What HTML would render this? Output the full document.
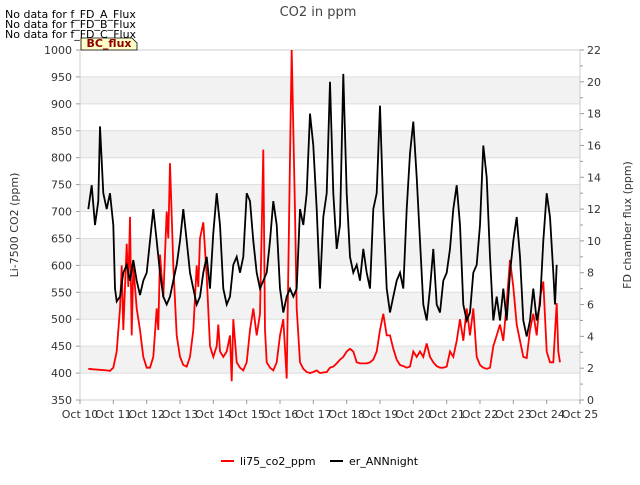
<!DOCTYPE html>
<html><head><meta charset="utf-8"><style>
body{margin:0;background:#fff;font-family:"Liberation Sans","DejaVu Sans",sans-serif}
svg text{font-family:"DejaVu Sans","Liberation Sans",sans-serif}
</style></head><body>
<svg id="chart" width="640" height="480" xmlns="http://www.w3.org/2000/svg">
<g id="bands"></g><g id="grid"></g><g id="axes"></g>
<g id="series"></g>
<text x="318" y="16" text-anchor="middle" font-size="13" fill="#444">CO2 in ppm</text>
<text x="5" y="18" font-size="11">No data for f_FD_A_Flux</text>
<text x="5" y="28" font-size="11">No data for f_FD_B_Flux</text>
<text x="5" y="38" font-size="11">No data for f_FD_C_Flux</text>
<g><path d="M81,38 L132,38 L137,43 L137,50 L81,50 Z" fill="#ffffc8" stroke="#000" stroke-width="0.8"/>
<text x="109" y="47" text-anchor="middle" font-size="11" font-weight="bold" fill="#8b0000">BC_flux</text></g>
<text transform="translate(18,225) rotate(-90)" text-anchor="middle" font-size="11" fill="#333">Li-7500 CO2 (ppm)</text>
<text transform="translate(631,225) rotate(-90)" text-anchor="middle" font-size="11" fill="#333">FD chamber flux (ppm)</text>
<g>
<line x1="221" y1="461" x2="234" y2="461" stroke="#f00" stroke-width="2"/>
<text x="240" y="465" font-size="11">li75_co2_ppm</text>
<line x1="330" y1="461" x2="343" y2="461" stroke="#000" stroke-width="2"/>
<text x="349" y="465" font-size="11">er_ANNnight</text></g>
</svg>
<script>
const xTicks=["Oct 10","Oct 11","Oct 12","Oct 13","Oct 14","Oct 15","Oct 16","Oct 17","Oct 18","Oct 19","Oct 20","Oct 21","Oct 22","Oct 23","Oct 24","Oct 25"];
const leftTicks=[350,400,450,500,550,600,650,700,750,800,850,900,950,1000];
const rightTicks=[0,2,4,6,8,10,12,14,16,18,20,22];
const blackT=[10.25,10.35,10.45,10.55,10.6,10.7,10.8,10.9,11.0,11.05,11.1,11.2,11.3,11.4,11.5,11.6,11.7,11.8,11.9,12.0,12.1,12.2,12.3,12.4,12.5,12.6,12.7,12.8,12.9,13.0,13.1,13.2,13.3,13.4,13.5,13.6,13.7,13.8,13.9,14.0,14.1,14.2,14.3,14.4,14.5,14.6,14.7,14.8,14.9,15.0,15.1,15.2,15.3,15.4,15.5,15.6,15.7,15.8,15.9,16.0,16.1,16.2,16.3,16.4,16.5,16.6,16.7,16.8,16.9,17.0,17.1,17.2,17.3,17.4,17.5,17.6,17.7,17.8,17.9,18.0,18.1,18.2,18.3,18.4,18.5,18.6,18.7,18.8,18.9,19.0,19.1,19.2,19.3,19.4,19.5,19.6,19.7,19.8,19.9,20.0,20.1,20.2,20.3,20.4,20.5,20.6,20.7,20.8,20.9,21.0,21.1,21.2,21.3,21.4,21.5,21.6,21.7,21.8,21.9,22.0,22.1,22.2,22.3,22.4,22.5,22.6,22.7,22.8,22.9,23.0,23.1,23.2,23.3,23.4,23.5,23.6,23.7,23.8,23.9,24.0,24.1,24.2,24.25,24.3];
const blackV=[12,13.5,11,12.5,17.2,13,12,13,11,7,6.2,6.5,8,8.5,7.5,8.8,7.5,6.6,7.5,8,10,12,10,8,6.5,6,6.5,7.5,8.5,10,12,10,8,7,6,6.5,8,9,7,10.5,13,11,7,6,6.5,8.5,9,8,9,13,12.5,10,8,7,7.5,8,10,12.5,11,7,5.5,6.5,7,6.5,7,12,11,13,18,16,12,7,11.5,13,20,13,9.5,11,20.5,13,9,8,8.5,7.5,9.5,8,7,12,13,18.5,12,7,5.5,6.5,7.5,8,7,12,15.5,17.5,14,10,6,5,7,9.5,6,5.5,7.5,8,9.5,12,13.5,11,6,5,5.5,8,8.5,11,16,14,9,5,6.5,5,7,5,8,10,11.5,9,5,4,5,7,5,6,10,13,11.5,8,6,8.5];
const redT=[10.25,10.4,10.6,10.8,10.9,11.0,11.1,11.2,11.25,11.3,11.4,11.45,11.5,11.55,11.6,11.7,11.8,11.9,12.0,12.1,12.2,12.3,12.35,12.4,12.5,12.6,12.65,12.7,12.8,12.9,13.0,13.1,13.2,13.3,13.4,13.5,13.55,13.6,13.7,13.8,13.9,14.0,14.1,14.15,14.2,14.3,14.4,14.5,14.55,14.6,14.7,14.8,14.9,15.0,15.1,15.2,15.3,15.4,15.5,15.55,15.6,15.7,15.8,15.9,16.0,16.1,16.2,16.3,16.35,16.45,16.5,16.6,16.7,16.8,16.9,17.0,17.1,17.2,17.3,17.4,17.5,17.6,17.7,17.8,17.9,18.0,18.1,18.2,18.3,18.4,18.5,18.6,18.7,18.8,18.9,19.0,19.1,19.2,19.3,19.4,19.5,19.6,19.7,19.8,19.9,20.0,20.1,20.2,20.3,20.4,20.5,20.6,20.7,20.8,20.9,21.0,21.1,21.2,21.3,21.4,21.5,21.6,21.7,21.8,21.9,22.0,22.1,22.2,22.3,22.4,22.5,22.6,22.7,22.8,22.9,23.0,23.1,23.2,23.3,23.4,23.5,23.6,23.7,23.8,23.9,24.0,24.1,24.2,24.3,24.35,24.4];
const redV=[408,407,406,405,404,410,440,520,600,480,640,560,690,470,600,520,480,430,410,410,430,520,480,620,540,700,650,790,600,470,430,415,412,430,480,600,560,650,680,580,450,430,450,490,440,430,440,470,385,500,420,410,405,420,480,520,470,510,815,480,420,410,405,420,470,500,390,800,1000,700,520,420,408,402,400,402,405,400,401,402,410,412,418,425,430,440,445,440,420,418,418,418,420,425,440,480,510,470,470,445,425,415,413,410,412,440,430,440,430,455,430,420,413,410,410,412,440,430,460,500,460,520,470,520,430,415,410,408,410,450,470,490,460,530,610,560,490,460,430,428,480,510,470,540,570,440,420,420,530,440,420];
const X0=80,X1=580,Y0=400,Y1=50;
const xs=d=>X0+(d-10)/15*(X1-X0);
const yl=v=>Y0-(v-350)/650*(Y0-Y1);
const yr=v=>Y0-v/22*(Y0-Y1);
const NS="http://www.w3.org/2000/svg";
function mk(tag,attrs,parent){const e=document.createElementNS(NS,tag);for(const k in attrs)e.setAttribute(k,attrs[k]);document.getElementById(parent).appendChild(e);return e;}
for(let i=0;i<leftTicks.length-1;i++){const v=leftTicks[i];if(v>=400&&((v-400)/50)%2==0){const b=mk('rect',{x:X0,y:yl(v+50),width:X1-X0,height:yl(v)-yl(v+50),fill:'#f2f2f2'},'bands');}}
leftTicks.forEach(v=>{const l=mk('line',{x1:X0,x2:X1,y1:yl(v),y2:yl(v),stroke:'#ddd','stroke-width':1},'grid');
const t=mk('text',{x:X0-8,y:yl(v)+4,'text-anchor':'end','font-size':11,fill:'#333'},'axes');t.textContent=v;
mk('line',{x1:X0-4,x2:X0,y1:yl(v),y2:yl(v),stroke:'#999'},'axes');});
mk('rect',{x:X0,y:Y1,width:X1-X0,height:Y0-Y1,fill:'none',stroke:'#ccc'},'axes');
rightTicks.forEach(v=>{const t=mk('text',{x:X1+7,y:yr(v)+4,'font-size':11,fill:'#333'},'axes');t.textContent=v;
mk('line',{x1:X1,x2:X1+4,y1:yr(v),y2:yr(v),stroke:'#999'},'axes');if(v<22)mk('line',{x1:X1,x2:X1+3,y1:yr(v+1),y2:yr(v+1),stroke:'#999'},'axes');});
xTicks.forEach((s,i)=>{const x=xs(10+i);const t=mk('text',{x:x,y:418,'text-anchor':'middle','font-size':11,fill:'#333'},'axes');t.textContent=s;
mk('line',{x1:x,x2:x,y1:Y0,y2:Y0+4,stroke:'#999'},'axes');});
const rp=mk('polyline',{points:redT.map((d,i)=>xs(d).toFixed(1)+','+yl(redV[i]).toFixed(1)).join(' '),fill:'none',stroke:'#f00','stroke-width':1.8},'series');

const bp=mk('polyline',{points:blackT.map((d,i)=>xs(d).toFixed(1)+','+yr(blackV[i]).toFixed(1)).join(' '),fill:'none',stroke:'#000','stroke-width':1.8},'series');

</script>
</body></html>
